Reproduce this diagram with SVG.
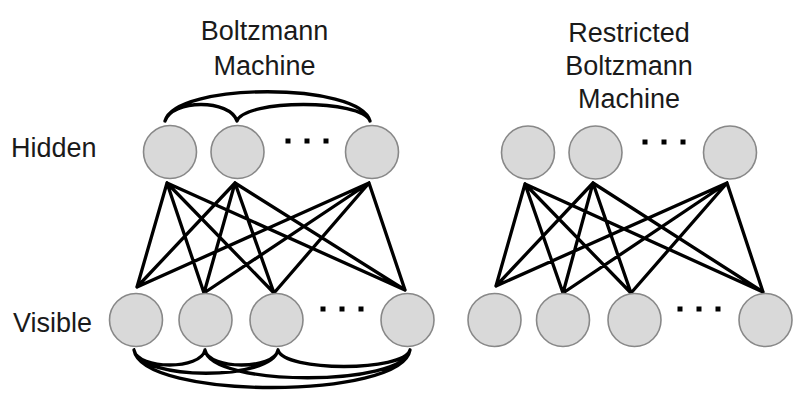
<svg xmlns="http://www.w3.org/2000/svg" width="797" height="401" viewBox="0 0 797 401">
<style>
.t{font-family:"Liberation Sans",Arial,sans-serif;font-size:27px;fill:#1a1a1a}
.n{fill:#d9d9d9;stroke:#888;stroke-width:1.6}
.e{stroke:#000;stroke-width:3.3;fill:none;stroke-linecap:round}
.d{fill:#000}
</style>
<rect width="797" height="401" fill="#fff"/>
<g id="labels">
<text class="t" x="264.5" y="40" text-anchor="middle">Boltzmann</text>
<text class="t" x="264.5" y="75" text-anchor="middle">Machine</text>
<text class="t" x="629" y="42" text-anchor="middle">Restricted</text>
<text class="t" x="629" y="75" text-anchor="middle">Boltzmann</text>
<text class="t" x="629" y="108" text-anchor="middle">Machine</text>
<text class="t" x="11" y="157">Hidden</text>
<text class="t" x="13" y="332">Visible</text>
</g>
<g id="connectors">
<path class="e" d="M167,183L137,287M167,183L204,293M167,183L274,293M167,183L405,290M235,183L137,287M235,183L204,293M235,183L274,293M235,183L405,290M369,183L137,287M369,183L204,293M369,183L274,293M369,183L405,290"/>
<path class="e" d="M525,184L496,286M525,184L563,293M525,184L631,293M525,184L763,292M593,183L496,286M593,183L563,293M593,183L631,293M593,183L763,292M727,183L496,286M727,183L563,293M727,183L631,293M727,183L763,292"/>
<path class="e" d="M165,121C175,82 360,82 370,121M165,121C172,99 230,99 237,121M237,121C245,99 362,99 370,121"/>
<path class="e" d="M134,350C138,370 201,370 205,350M205,350C209,370 274,370 278,350M278,350C284,372 404,372 410,350M134,350C140,381 272,381 278,350M205,350C211,387 404,387 410,350M134,350C142,400 402,400 410,350"/>
</g>
<g id="bm-hidden">
<circle class="n" cx="170" cy="152" r="26.5"/>
<circle class="n" cx="237.5" cy="152" r="26.5"/>
<circle class="n" cx="372" cy="152" r="26.5"/>
<rect class="d" x="285.5" y="138.5" width="5" height="5"/>
<rect class="d" x="304.5" y="138.5" width="5" height="5"/>
<rect class="d" x="323.5" y="138.5" width="5" height="5"/>
</g>
<g id="bm-visible">
<circle class="n" cx="136" cy="320" r="26.5"/>
<circle class="n" cx="205.5" cy="320" r="26.5"/>
<circle class="n" cx="276.5" cy="320" r="26.5"/>
<circle class="n" cx="407.5" cy="320" r="26.5"/>
<rect class="d" x="320.5" y="306.5" width="5" height="5"/>
<rect class="d" x="339.5" y="306.5" width="5" height="5"/>
<rect class="d" x="358.5" y="306.5" width="5" height="5"/>
</g>
<g id="rbm-hidden">
<circle class="n" cx="528" cy="152.5" r="26.5"/>
<circle class="n" cx="595.5" cy="152.5" r="26.5"/>
<circle class="n" cx="730" cy="152.5" r="26.5"/>
<rect class="d" x="642.5" y="139.5" width="5" height="5"/>
<rect class="d" x="661.5" y="139.5" width="5" height="5"/>
<rect class="d" x="680.5" y="139.5" width="5" height="5"/>
</g>
<g id="rbm-visible">
<circle class="n" cx="494.5" cy="320" r="26.5"/>
<circle class="n" cx="563" cy="320" r="26.5"/>
<circle class="n" cx="634.5" cy="320" r="26.5"/>
<circle class="n" cx="765.5" cy="320" r="26.5"/>
<rect class="d" x="677.5" y="306.5" width="5" height="5"/>
<rect class="d" x="696.5" y="306.5" width="5" height="5"/>
<rect class="d" x="715.5" y="306.5" width="5" height="5"/>
</g>
</svg>
